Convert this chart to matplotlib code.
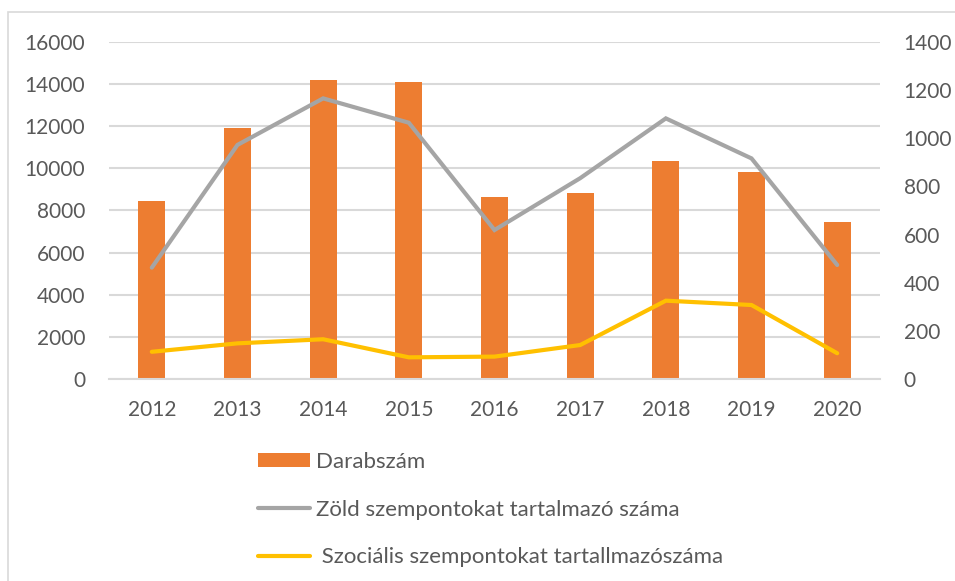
import matplotlib.pyplot as plt
from matplotlib.lines import Line2D
from matplotlib.patches import Patch, Rectangle
import numpy as np

plt.rcParams['font.family'] = ['Lato', 'DejaVu Sans']

# data
years = ['2012', '2013', '2014', '2015', '2016', '2017', '2018', '2019', '2020']
darabszam = [8450, 11900, 14200, 14100, 8640, 8810, 10350, 9830, 7440]
zold = [463, 972, 1165, 1064, 619, 834, 1082, 916, 474]
szocialis = [114, 149, 166, 91, 94, 142, 326, 308, 108]

left_ticks = [0, 2000, 4000, 6000, 8000, 10000, 12000, 14000, 16000]
right_ticks = [0, 200, 400, 600, 800, 1000, 1200, 1400]

TEXT = '#595959'
GRID = '#d9d9d9'
ORANGE = '#ed7d31'
GREY = '#a5a5a5'
YELLOW = '#ffc000'
FS = 15
LEG_FS = 16

fig = plt.figure(figsize=(9.55, 5.81), dpi=100)
ax1 = fig.add_axes([0.1141, 0.3472, 0.8074, 0.5810])
ax2 = ax1.twinx()

x = np.arange(len(years))

# bars on the left axis
ax1.bar(x, darabszam, width=0.315, color=ORANGE, zorder=2)
ax1.set_ylim(0, 16000)
ax1.set_yticks(left_ticks)
ax1.set_xlim(-0.5, len(years) - 0.5)
ax1.set_xticks(x)
ax1.set_xticklabels(years)
ax1.grid(True, axis='y', color=GRID, linewidth=1.5, zorder=0)
ax1.set_axisbelow(True)

# lines on the right axis
ax2.plot(x, zold, color=GREY, linewidth=3, solid_capstyle='round',
         solid_joinstyle='miter', zorder=3)
ax2.plot(x, szocialis, color=YELLOW, linewidth=3, solid_capstyle='round',
         solid_joinstyle='miter', zorder=3)
ax2.set_ylim(0, 1400)
ax2.set_yticks(right_ticks)

for ax in (ax1, ax2):
    for side in ('top', 'left', 'right', 'bottom'):
        ax.spines[side].set_visible(False)
    ax.tick_params(length=0, labelsize=FS, labelcolor=TEXT)
ax1.tick_params(axis='y', pad=17)
ax2.tick_params(axis='y', pad=17)
ax1.tick_params(axis='x', pad=15)
ax1.spines['bottom'].set_visible(True)
ax1.spines['bottom'].set_color(GRID)
ax1.spines['bottom'].set_linewidth(1.5)

# legend below the chart, one entry per row
handles = [
    Patch(facecolor=ORANGE, edgecolor='none'),
    Line2D([], [], color=GREY, linewidth=3, solid_capstyle='round'),
    Line2D([], [], color=YELLOW, linewidth=3, solid_capstyle='round'),
]
labels = ['Darabszám', 'Zöld szempontokat tartalmazó száma',
          ' Szociális szempontokat tartallmazószáma']
fig.legend(handles, labels, loc='upper left', bbox_to_anchor=(258 / 955, 1 - 452 / 581),
           frameon=False, fontsize=LEG_FS, labelcolor=TEXT, handlelength=2.34,
           handleheight=0.63, handletextpad=0.27, labelspacing=1.24,
           borderpad=0, borderaxespad=0)

# thin frame of the chart area
fig.patches.append(Rectangle((8 / 955, -0.05), 1.0, 1 - 12 / 581 + 0.05,
                             transform=fig.transFigure, fill=False,
                             edgecolor='#d9d9d9', linewidth=1.2))

fig.savefig('out.png', dpi=100)
